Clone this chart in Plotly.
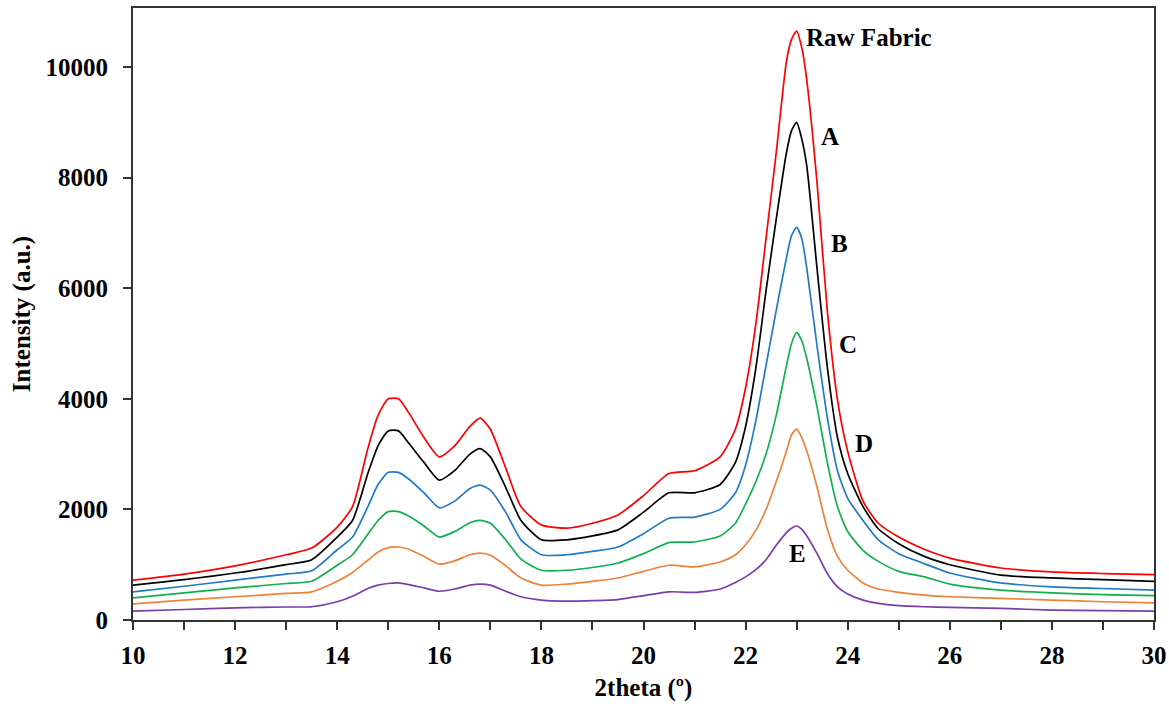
import plotly.graph_objects as go

two_theta = [10, 11, 12, 13, 13.5, 14, 14.3, 14.6, 14.8, 15.0, 15.2, 15.4, 15.7, 16.0, 16.3, 16.6, 16.8,
             17.0, 17.3, 17.6, 18.0, 18.5, 19.0, 19.5, 20.0, 20.5, 21.0, 21.5, 21.8, 22.0, 22.2, 22.4,
             22.6, 22.8, 22.9, 23.0, 23.1, 23.2, 23.4, 23.6, 23.8, 24.0, 24.3, 24.6, 25.0, 25.5, 26.0,
             27.0, 28.0, 29.0, 30.0]

raw_fabric = [720, 830, 980, 1180, 1300, 1680, 2050, 3100, 3700, 4000, 4000, 3750, 3300, 2950, 3150, 3500, 3650,
              3450, 2750, 2050, 1720, 1660, 1750, 1900, 2250, 2650, 2700, 2950, 3450, 4200, 5350, 6900,
              8450, 10100, 10500, 10650, 10350, 9750, 7900, 5600, 3980, 3050, 2150, 1750, 1500, 1280, 1120,
              940, 870, 840, 820]

sample_a = [630, 730, 850, 1000, 1090, 1500, 1800, 2650, 3150, 3420, 3420, 3200, 2850, 2530, 2700, 3000, 3100,
            2950, 2400, 1800, 1450, 1450, 1520, 1630, 1950, 2300, 2300, 2450, 2850, 3500, 4550, 5950,
            7250, 8450, 8850, 9000, 8700, 8200, 6350, 4580, 3300, 2650, 2050, 1650, 1380, 1150, 1000,
            810, 760, 730, 700]

sample_b = [510, 610, 720, 830, 890, 1270, 1500, 2050, 2450, 2670, 2670, 2550, 2300, 2030, 2150, 2380, 2440,
            2350, 1950, 1450, 1180, 1180, 1240, 1320, 1560, 1840, 1860, 2000, 2300, 2800, 3600, 4600,
            5600, 6550, 6950, 7100, 6900, 6350, 4950, 3670, 2700, 2200, 1800, 1450, 1200, 1020, 850,
            670, 600, 570, 540]

sample_c = [400, 490, 580, 660, 700, 990, 1180, 1550, 1800, 1960, 1960, 1880, 1700, 1500, 1600, 1760, 1800,
            1750, 1450, 1100, 900, 900, 950, 1030, 1200, 1400, 1410, 1520, 1750, 2100, 2500, 3000,
            3700, 4600, 5000, 5200, 5050, 4720, 3850, 2850, 2050, 1600, 1260, 1060, 880, 780, 650,
            540, 490, 460, 440]

sample_d = [290, 360, 420, 480, 510, 700, 860, 1080, 1230, 1310, 1320, 1280, 1150, 1010, 1070, 1180, 1210,
            1170, 980, 760, 630, 650, 700, 760, 880, 990, 960, 1050, 1180, 1360, 1620, 2000,
            2500, 3050, 3350, 3450, 3300, 3050, 2400, 1650, 1150, 900, 670, 560, 500, 450, 420,
            390, 360, 330, 310]

sample_e = [160, 190, 220, 235, 240, 330, 430, 570, 630, 660, 670, 640, 580, 520, 560, 630, 650,
            630, 520, 420, 360, 340, 350, 370, 440, 510, 500, 560, 680, 780, 910, 1090,
            1350, 1580, 1660, 1700, 1640, 1520, 1200, 840, 600, 470, 360, 300, 260, 240, 230,
            210, 180, 170, 160]

series_names = ["Raw Fabric", "A", "B", "C", "D", "E"]
series_values = [raw_fabric, sample_a, sample_b, sample_c, sample_d, sample_e]
series_colors = ["#FF0000", "#000000", "#1F7BC8", "#10B050", "#EE8236", "#7A3DAA"]

# label positions (data coords, left-anchored)
label_text = ["Raw Fabric", "A", "B", "C", "D", "E"]
label_x = [23.14, 23.43, 23.63, 23.80, 24.10, 22.82]
label_y = [10540, 8750, 6800, 4990, 3200, 1210]

FONT = "Liberation Serif, Times New Roman, serif"

fig = go.Figure()
for name, vals, col in zip(series_names, series_values, series_colors):
    fig.add_trace(go.Scatter(x=two_theta, y=vals, mode="lines", name=name,
                             line=dict(color=col, width=1.7, shape="spline", smoothing=0.6)))

for t, lx, ly in zip(label_text, label_x, label_y):
    fig.add_annotation(x=lx, y=ly, xref="x", yref="y", text=f"<b>{t}</b>", showarrow=False,
                       xanchor="left", yanchor="middle",
                       font=dict(family=FONT, size=25, color="#000000"))

fig.update_layout(
    width=1169, height=704,
    margin=dict(l=133, r=15, t=8, b=84),
    paper_bgcolor="white", plot_bgcolor="white",
    showlegend=False,
    font=dict(family=FONT, color="#000000"),
    xaxis=dict(
        range=[10, 30], tickmode="linear", tick0=10, dtick=2,
        ticks="outside", ticklen=8, tickwidth=1.5, tickcolor="#333333",
        minor=dict(ticks="outside", ticklen=8, tickwidth=1.5, tickcolor="#333333", dtick=1, tick0=10),
        showline=True, linecolor="#333333", linewidth=2, mirror=True,
        showgrid=False, zeroline=False,
        tickfont=dict(family=FONT, size=25, color="#000000"),
        tickprefix="<b>", ticksuffix="</b>",
        ticklabelstandoff=4,
        title=dict(text="<b>2theta (º)</b>", font=dict(family=FONT, size=25, color="#000000"), standoff=10),
        automargin=False,
    ),
    yaxis=dict(
        range=[0, 11067], tickmode="array", tickvals=[0, 2000, 4000, 6000, 8000, 10000],
        ticktext=["<b>0</b>", "<b>2000</b>", "<b>4000</b>", "<b>6000</b>", "<b>8000</b>", "<b>10000</b>"],
        ticks="outside", ticklen=8, tickwidth=1.5, tickcolor="#333333",
        showline=True, linecolor="#333333", linewidth=2, mirror=True,
        showgrid=False, zeroline=False,
        tickfont=dict(family=FONT, size=25, color="#000000"),
        ticklabelstandoff=10,
        title=dict(text="<b>Intensity (a.u.)</b>", font=dict(family=FONT, size=25, color="#000000"), standoff=8),
        automargin=False,
    ),
)

fig.write_html("out.html")
